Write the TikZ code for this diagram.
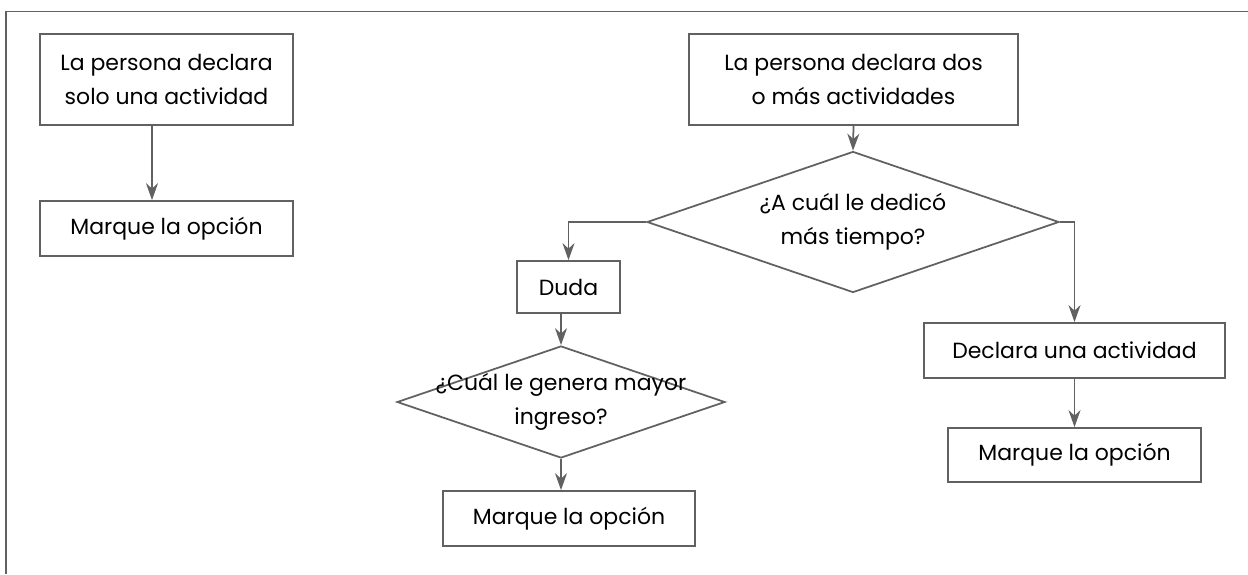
\documentclass[tikz,border=0pt]{standalone}
\usepackage{fontspec}
\setmainfont{Poppins}
\usepackage{tikz}
\usetikzlibrary{
    arrows.meta,
    shapes.geometric,
    calc,
    positioning
}

\begin{document}
\begin{tikzpicture}[
        line width=1pt,
        every node/.style={font=\fontsize{12.5}{19.5}\selectfont, text=black, align=center},
        box/.style={draw=black!62, rectangle, inner sep=0pt},
        decision/.style={draw=black!62, diamond, inner sep=0pt, shape aspect=2.92},
        arr/.style={draw=black!62, -{Stealth[length=3.4mm, width=2.4mm, inset=1.1mm]}}
    ]
    \useasboundingbox (0, 0) rectangle (24.96, -11.48);
    % frame
    \draw[black!62] (0.12, -11.48) -- (0.12, -0.23) -- (24.96, -0.23);
    % left column
    \node[box, minimum width=5.06cm, minimum height=1.82cm] (uno) at (3.33, -1.59) {La persona declara\\solo una actividad};
    \node[box, minimum width=5.06cm, minimum height=1.1cm] (marcaUno) at (3.33, -4.57) {Marque la opción};
    % right part
    \node[box, minimum width=6.58cm, minimum height=1.82cm] (varias) at (17.07, -1.59) {La persona declara dos\\o más actividades};
    \node[decision, minimum width=8.24cm, minimum height=2.82cm] (tiempo) at (17.06, -4.44) {¿A cuál le dedicó\\más tiempo?};
    \node[box, minimum width=2.06cm, minimum height=1.04cm] (duda) at (11.37, -5.74) {Duda};
    \node[decision, inner xsep=-1.2cm, inner ysep=-0.1cm, minimum width=6.56cm, minimum height=2.24cm] (ingreso) at (11.22, -8.04) {¿Cuál le genera mayor\\ingreso?};
    \node[box, minimum width=5.04cm, minimum height=1.1cm] (marcaDos) at (11.38, -10.37) {Marque la opción};
    \node[box, minimum width=6.02cm, minimum height=1.1cm] (declara) at (21.49, -7.01) {Declara una actividad};
    \node[box, minimum width=5.06cm, minimum height=1.08cm] (marcaTres) at (21.49, -9.1) {Marque la opción};
    % connectors
    \draw[arr] ([xshift=-0.29cm]uno.south) -- ([xshift=-0.29cm]marcaUno.north);
    \draw[arr] (varias.south) -- (tiempo.north);
    \draw[arr] (tiempo.west) -| (duda.north);
    \draw[arr] (tiempo.east) -| (declara.north);
    \draw[arr] (duda.south -| ingreso.north) -- (ingreso.north);
    \draw[arr] (ingreso.south) -- (ingreso.south |- marcaDos.north);
    \draw[arr] (declara.south) -- (marcaTres.north);
\end{tikzpicture}
\end{document}
